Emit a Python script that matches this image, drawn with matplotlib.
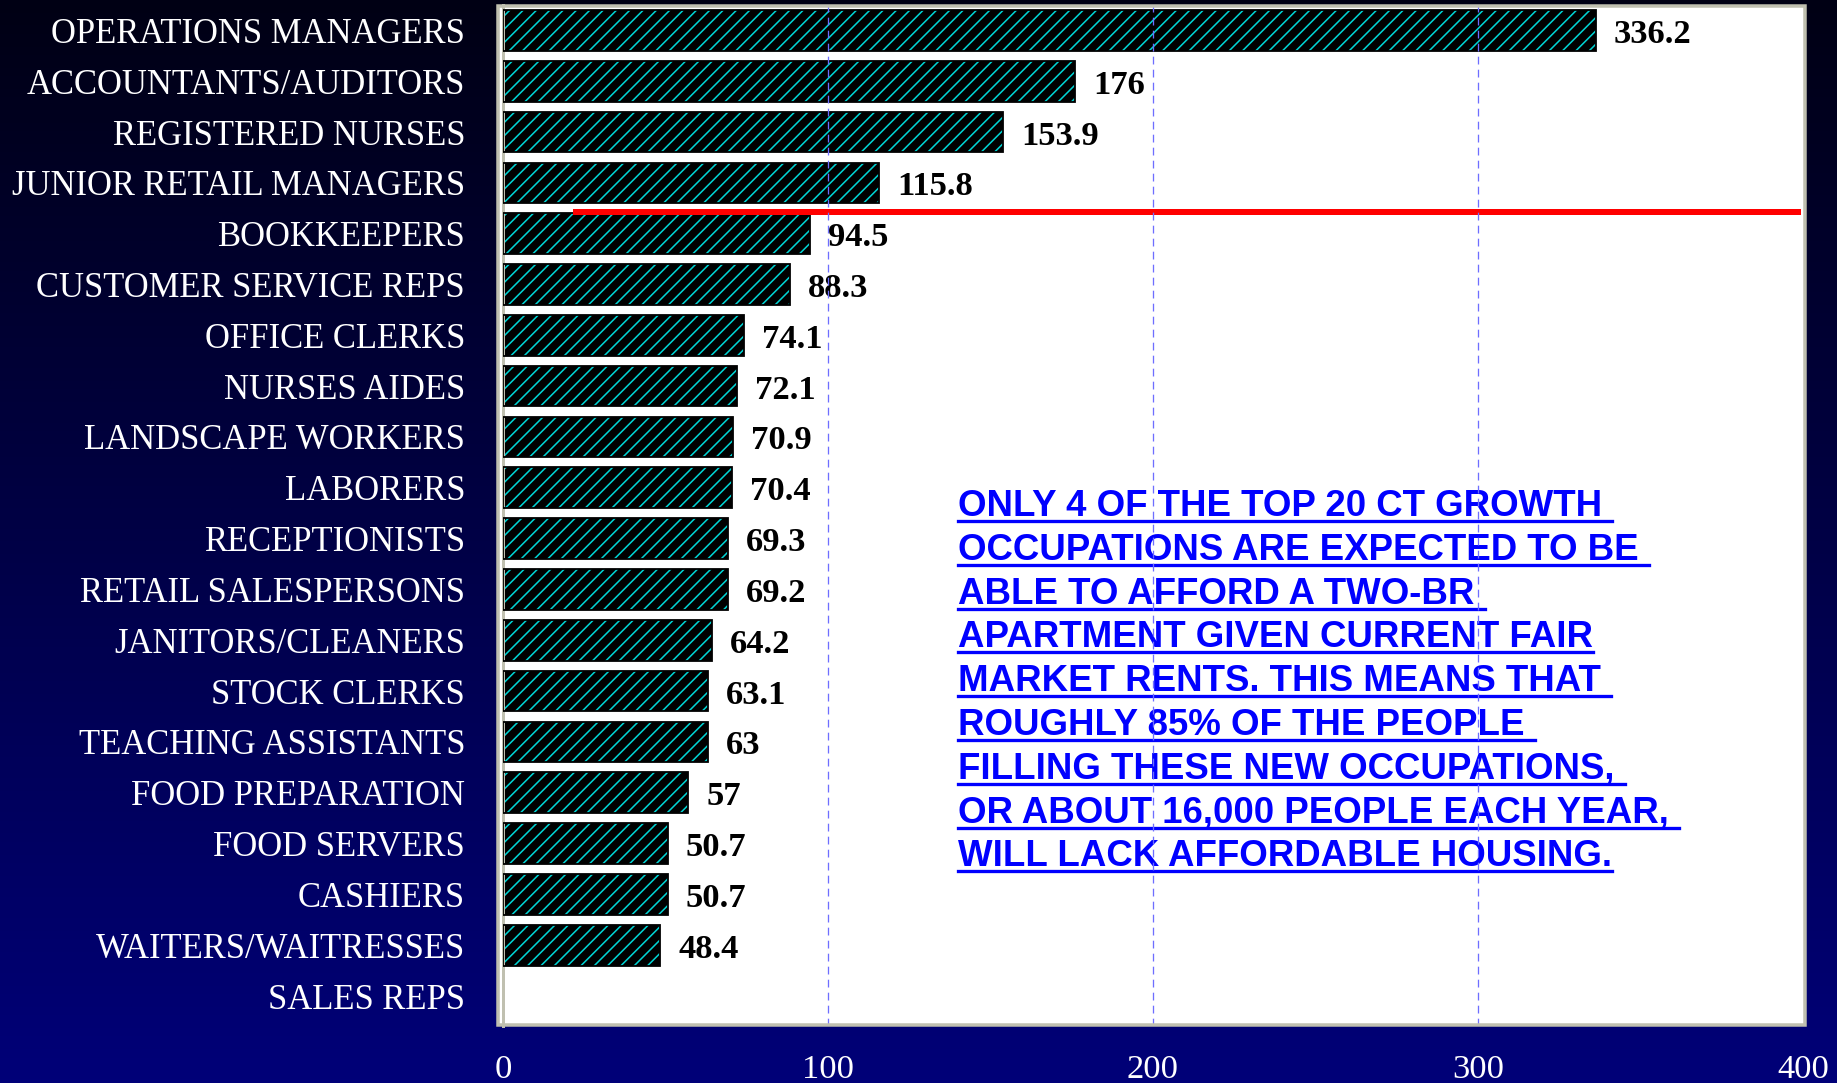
import numpy as np
import matplotlib
matplotlib.use("Agg")
import matplotlib.pyplot as plt
from matplotlib.patches import Rectangle
from matplotlib.lines import Line2D

# occupations, top to bottom
categories = ["OPERATIONS MANAGERS", "ACCOUNTANTS/AUDITORS", "REGISTERED NURSES",
              "JUNIOR RETAIL MANAGERS", "BOOKKEEPERS", "CUSTOMER SERVICE REPS",
              "OFFICE CLERKS", "NURSES AIDES", "LANDSCAPE WORKERS", "LABORERS",
              "RECEPTIONISTS", "RETAIL SALESPERSONS", "JANITORS/CLEANERS",
              "STOCK CLERKS", "TEACHING ASSISTANTS", "FOOD PREPARATION",
              "FOOD SERVERS", "CASHIERS", "WAITERS/WAITRESSES", "SALES REPS"]
values = [336.2, 176, 153.9, 115.8, 94.5, 88.3, 74.1, 72.1, 70.9, 70.4,
          69.3, 69.2, 64.2, 63.1, 63, 57, 50.7, 50.7, 48.4, None]
value_labels = ["336.2", "176", "153.9", "115.8", "94.5", "88.3", "74.1", "72.1",
                "70.9", "70.4", "69.3", "69.2", "64.2", "63.1", "63", "57",
                "50.7", "50.7", "48.4", ""]
xticks = [0, 100, 200, 300, 400]
afford_cut = 3.57   # red line between the affordable and the rest
note_lines = ["ONLY 4 OF THE TOP 20 CT GROWTH ",
              "OCCUPATIONS ARE EXPECTED TO BE ",
              "ABLE TO AFFORD A TWO-BR ",
              "APARTMENT GIVEN CURRENT FAIR",
              "MARKET RENTS. THIS MEANS THAT ",
              "ROUGHLY 85% OF THE PEOPLE ",
              "FILLING THESE NEW OCCUPATIONS, ",
              "OR ABOUT 16,000 PEOPLE EACH YEAR, ",
              "WILL LACK AFFORDABLE HOUSING."]

W, H, DPI = 1837, 1083, 80
PX = 72 / DPI  # points per pixel

def fx(p):
    return p / W

def fy(p):
    return 1 - p / H

plt.rcParams['hatch.linewidth'] = 1.4
serif = "Liberation Serif"
beige = "#C0C0B0"

fig = plt.figure(figsize=(W / DPI, H / DPI), dpi=DPI)

# navy gradient background
bg = fig.add_axes([0, 0, 1, 1], zorder=-10)
grad = np.linspace(0, 1, 256).reshape(-1, 1)
cols = np.zeros((256, 1, 3))
cols[:, 0, 2] = (20 + grad[:, 0] * 100) / 255
bg.imshow(cols, aspect='auto', extent=[0, 1, 0, 1])
bg.axis('off')

# plot frame
fig.add_artist(Rectangle((fx(497), fy(1026)), fx(1805) - fx(497), fy(5) - fy(1026),
                         transform=fig.transFigure, facecolor='white',
                         edgecolor='none', zorder=-5))
fig.add_artist(Rectangle((fx(497.5), fy(1025)), fx(1804.5) - fx(497.5), fy(6) - fy(1025),
                         transform=fig.transFigure, facecolor='none',
                         edgecolor=beige, linewidth=3.5 * PX, zorder=5))

ax = fig.add_axes([fx(503), fy(1026), fx(1803) - fx(503), fy(5) - fy(1026)])
ax.set_facecolor('white')

ypos = np.arange(len(categories))
mask = [v is not None for v in values]
yb = ypos[mask]
vb = np.array([v for v in values if v is not None])

ax.barh(yb, vb, height=0.8, color='black', edgecolor='#00D4D4', hatch='//',
        linewidth=0, zorder=2)
ax.barh(yb, vb, height=0.8, fill=False, edgecolor='black', linewidth=1.8 * PX, zorder=3)

for y, v, lab in zip(yb, vb, value_labels):
    ax.annotate(lab, (v, y), xytext=(18 * PX, -4 * PX), textcoords='offset points',
                va='center', ha='left', fontsize=31, fontweight='bold',
                family=serif, color='black', zorder=4)

ax.plot([21.5, 399.4], [afford_cut, afford_cut], color='#FF0000',
        linewidth=6 * PX, solid_capstyle='butt', zorder=4)

for gx in xticks[1:-1]:
    ax.axvline(gx, color='#6E6EFF', linewidth=1.3 * PX, dashes=(6, 4), zorder=8)

ax.set_xlim(0, 400)
ax.set_ylim(19.59, -0.5)
ax.set_yticks(ypos)
ax.set_yticklabels(categories, fontsize=31.2, family=serif, color='white')
ax.set_xticks(xticks)
ax.set_xticklabels([str(t) for t in xticks], fontsize=31, family=serif, color='white')
ax.tick_params(axis='y', length=0, pad=38 * PX)
ax.tick_params(axis='x', length=0, pad=28 * PX)
for s in ['top', 'right', 'bottom']:
    ax.spines[s].set_visible(False)
ax.spines['left'].set_color(beige)
ax.spines['left'].set_linewidth(3 * PX)

# underlined note
texts = []
for i, line in enumerate(note_lines):
    base = 516 + i * 43.8
    t = ax.text(fx(958), fy(base), line, transform=fig.transFigure, ha='left',
                va='baseline', fontsize=33, fontweight='bold',
                family='Liberation Sans', color='#0000FF', zorder=5, clip_on=False)
    texts.append((t, base))

fig.canvas.draw()
r = fig.canvas.get_renderer()
for t, base in texts:
    bb = t.get_window_extent(r)
    uy = fy(base + 5)
    ax.add_line(Line2D([bb.x0 / W, bb.x1 / W], [uy, uy], transform=fig.transFigure,
                       color='#0000FF', linewidth=3.3 * PX, zorder=5, clip_on=False))

fig.savefig("out.png", dpi=DPI)
